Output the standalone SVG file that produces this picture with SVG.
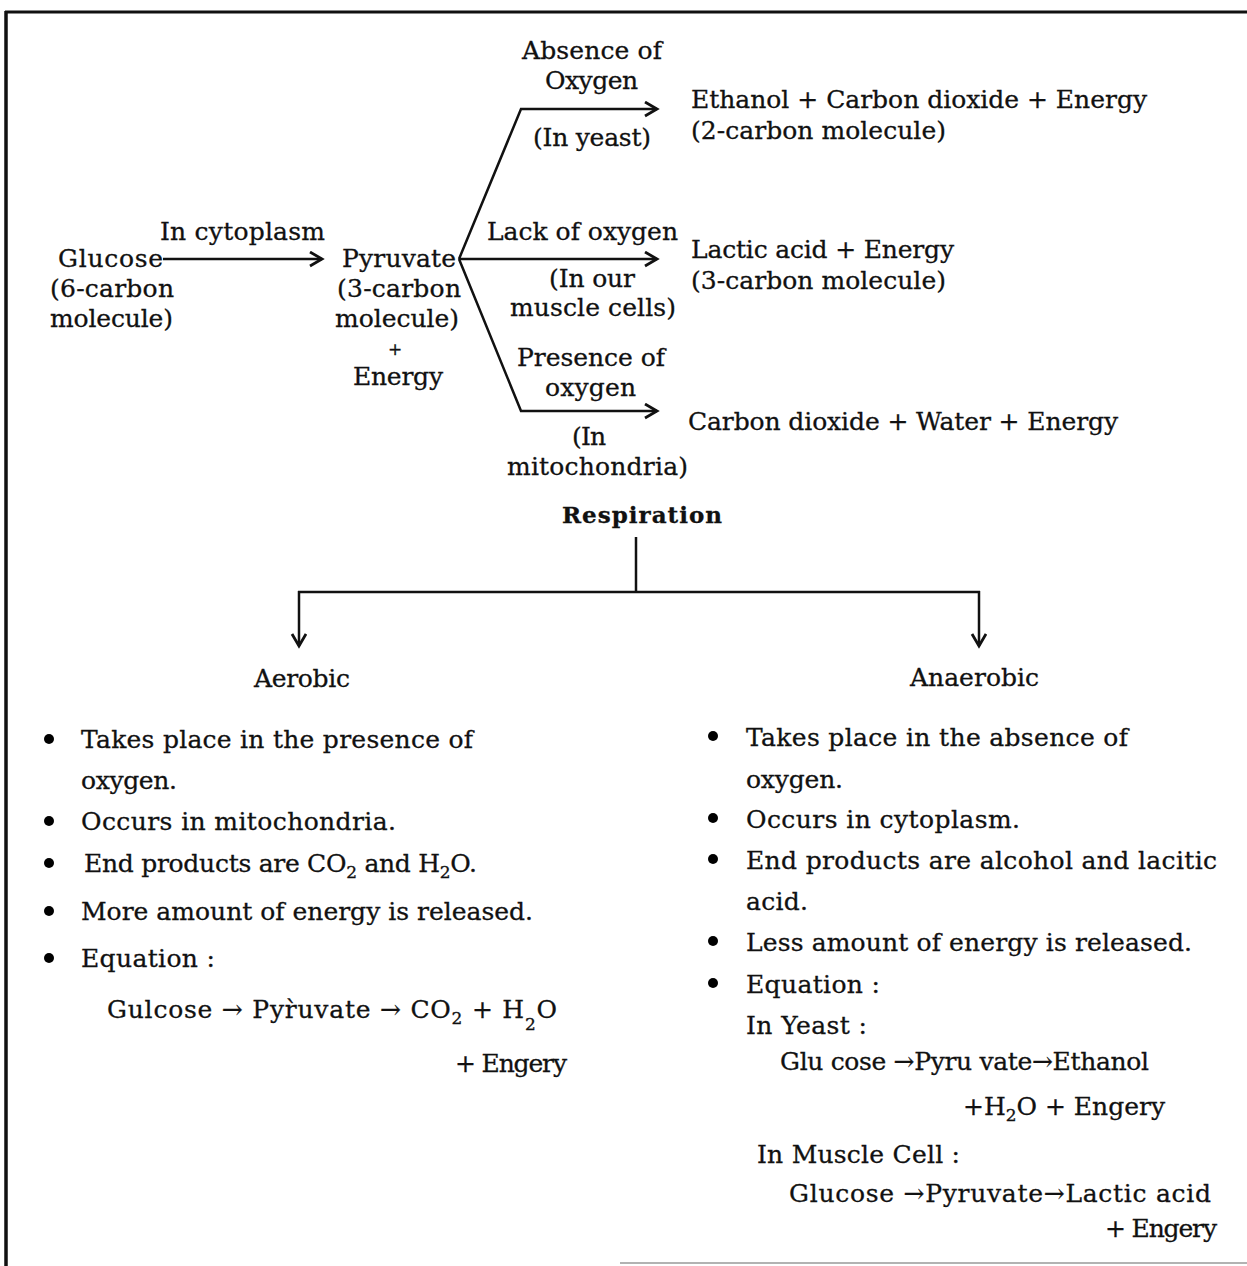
<svg xmlns="http://www.w3.org/2000/svg" width="1247" height="1266" viewBox="0 0 1247 1266">
<defs>
<style>
text{font-family:"DejaVu Serif","Liberation Serif",serif;font-size:25px;fill:#111;stroke:#111;stroke-width:0.3}
.c{text-anchor:middle}
.b{font-weight:bold;font-size:23px}
.ln{stroke:#111;stroke-width:2.5;fill:none}
.sub{font-size:17px}
.sm{font-size:17px}
</style>
<marker id="ah" markerUnits="userSpaceOnUse" markerWidth="16" markerHeight="18" refX="13" refY="8" orient="auto">
<path d="M1,1 L13,8 L1,15" stroke="#111" stroke-width="2.8" fill="none"/>
</marker>
</defs>
<rect x="0" y="0" width="1247" height="1266" fill="#fff"/>
<g id="frame">
<line x1="5" y1="12" x2="1247" y2="12" stroke="#111" stroke-width="3"/>
<line x1="6" y1="11" x2="6" y2="1266" stroke="#111" stroke-width="3.5"/>
<line x1="620" y1="1263" x2="1247" y2="1263" stroke="#999" stroke-width="1.5"/>
</g>
<g id="connectors">
<line class="ln" x1="163" y1="259" x2="322" y2="259" marker-end="url(#ah)"/>
<polyline class="ln" points="459,259 521,109 657,109" marker-end="url(#ah)"/>
<line class="ln" x1="459" y1="259" x2="657" y2="259" marker-end="url(#ah)"/>
<polyline class="ln" points="459,259 521,411 657,411" marker-end="url(#ah)"/>
<line class="ln" x1="636" y1="537" x2="636" y2="592"/>
<line class="ln" x1="298" y1="592" x2="980" y2="592"/>
<line class="ln" x1="299" y1="591" x2="299" y2="646" marker-end="url(#ah)"/>
<line class="ln" x1="979" y1="591" x2="979" y2="646" marker-end="url(#ah)"/>
</g>
<g id="glucose">
<text x="58" y="267" textLength="105" lengthAdjust="spacing">Glucose</text>
<text x="50" y="297" textLength="124" lengthAdjust="spacing">(6-carbon</text>
<text x="50" y="327" textLength="123" lengthAdjust="spacing">molecule)</text>
</g>
<g id="label-cytoplasm"><text x="160" y="240" textLength="165" lengthAdjust="spacing">In cytoplasm</text></g>
<g id="pyruvate">
<text x="342" y="267" textLength="114" lengthAdjust="spacing">Pyruvate</text>
<text x="337" y="297" textLength="124" lengthAdjust="spacing">(3-carbon</text>
<text x="335" y="327" textLength="124" lengthAdjust="spacing">molecule)</text>
<text class="c sm" x="395" y="355">+</text>
<text x="353" y="385" textLength="90" lengthAdjust="spacing">Energy</text>
</g>
<g id="label-absence">
<text x="522" y="59" textLength="140" lengthAdjust="spacing">Absence of</text>
<text x="545" y="89" textLength="93" lengthAdjust="spacing">Oxygen</text>
<text x="533" y="146" textLength="118" lengthAdjust="spacing">(In yeast)</text>
</g>
<g id="label-lack">
<text x="487" y="240" textLength="191" lengthAdjust="spacing">Lack of oxygen</text>
<text x="549" y="287" textLength="86" lengthAdjust="spacing">(In our</text>
<text x="510" y="316" textLength="166" lengthAdjust="spacing">muscle cells)</text>
</g>
<g id="label-presence">
<text x="517" y="366" textLength="148" lengthAdjust="spacing">Presence of</text>
<text x="545" y="396" textLength="91" lengthAdjust="spacing">oxygen</text>
<text x="572" y="445" textLength="34" lengthAdjust="spacing">(In</text>
<text x="507" y="475" textLength="181" lengthAdjust="spacing">mitochondria)</text>
</g>
<g id="ethanol">
<text x="691" y="108" textLength="456" lengthAdjust="spacing">Ethanol + Carbon dioxide + Energy</text>
<text x="691" y="139" textLength="255" lengthAdjust="spacing">(2-carbon molecule)</text>
</g>
<g id="lactic">
<text x="691" y="258" textLength="263" lengthAdjust="spacing">Lactic acid + Energy</text>
<text x="691" y="289" textLength="255" lengthAdjust="spacing">(3-carbon molecule)</text>
</g>
<g id="co2water">
<text x="688" y="430" textLength="430" lengthAdjust="spacing">Carbon dioxide + Water + Energy</text>
</g>
<g id="respiration"><text class="b" x="562" y="523" textLength="160" lengthAdjust="spacing">Respiration</text></g>
<g id="aerobic">
<text x="254" y="687" textLength="96" lengthAdjust="spacing">Aerobic</text>
<g id="aerobic-points">
<circle cx="49" cy="739" r="5"/>
<text x="81" y="748" textLength="392" lengthAdjust="spacing">Takes place in the presence of</text>
<text x="81" y="789" textLength="96" lengthAdjust="spacing">oxygen.</text>
<circle cx="49" cy="821" r="5"/>
<text x="81" y="830" textLength="315" lengthAdjust="spacing">Occurs in mitochondria.</text>
<circle cx="49" cy="863" r="5"/>
<text x="84" y="872" textLength="393" lengthAdjust="spacing">End products are CO<tspan class="sub" dy="6">2</tspan><tspan dy="-6"> and H</tspan><tspan class="sub" dy="6">2</tspan><tspan dy="-6">O.</tspan></text>
<circle cx="49" cy="911" r="5"/>
<text x="81" y="920" textLength="452" lengthAdjust="spacing">More amount of energy is released.</text>
<circle cx="49" cy="958" r="5"/>
<text x="81" y="967" textLength="134" lengthAdjust="spacing">Equation :</text>
<text x="107" y="1018" textLength="450" lengthAdjust="spacing">Gulcose → Pyr̀uvate → CO<tspan class="sub" dy="6">2</tspan><tspan dy="-6"> + H</tspan><tspan class="sub" dy="12">2</tspan><tspan dy="-12">O</tspan></text>
<text x="455" y="1072" textLength="112" lengthAdjust="spacing">+ Engery</text>
</g>
</g>
<g id="anaerobic">
<text x="910" y="686" textLength="129" lengthAdjust="spacing">Anaerobic</text>
<g id="anaerobic-points">
<circle cx="713" cy="736" r="5"/>
<text x="746" y="746" textLength="382" lengthAdjust="spacing">Takes place in the absence of</text>
<text x="746" y="788" textLength="97" lengthAdjust="spacing">oxygen.</text>
<circle cx="713" cy="818" r="5"/>
<text x="746" y="828" textLength="274" lengthAdjust="spacing">Occurs in cytoplasm.</text>
<circle cx="713" cy="859" r="5"/>
<text x="746" y="869" textLength="471" lengthAdjust="spacing">End products are alcohol and lacitic</text>
<text x="746" y="910" textLength="62" lengthAdjust="spacing">acid.</text>
<circle cx="713" cy="941" r="5"/>
<text x="746" y="951" textLength="446" lengthAdjust="spacing">Less amount of energy is released.</text>
<circle cx="713" cy="983" r="5"/>
<text x="746" y="993" textLength="134" lengthAdjust="spacing">Equation :</text>
<text x="746" y="1034" textLength="121" lengthAdjust="spacing">In Yeast :</text>
<text x="780" y="1070" textLength="369" lengthAdjust="spacing">Glu cose →Pyru vate→Ethanol</text>
<text x="963" y="1115" textLength="202" lengthAdjust="spacing">+H<tspan class="sub" dy="6">2</tspan><tspan dy="-6">O + Engery</tspan></text>
<text x="757" y="1163" textLength="203" lengthAdjust="spacing">In Muscle Cell :</text>
<text x="789" y="1202" textLength="422" lengthAdjust="spacing">Glucose →Pyruvate→Lactic acid</text>
<text x="1105" y="1237" textLength="112" lengthAdjust="spacing">+ Engery</text>
</g>
</g>
</svg>
